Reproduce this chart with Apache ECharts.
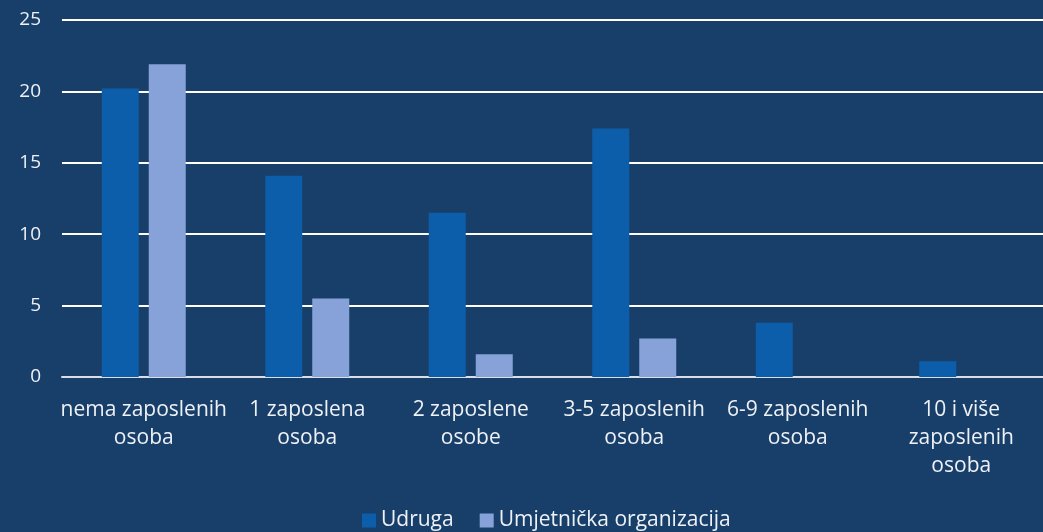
<!DOCTYPE html>
<html>
<head>
<meta charset="utf-8">
<script src="https://cdn.jsdelivr.net/npm/echarts@6/dist/echarts.min.js"></script>
<style>
  html, body { margin: 0; padding: 0; background: #183f69; }
  #chart { width: 1043px; height: 532px; }
</style>
</head>
<body>
<div id="chart"></div>
<script>
var categories = ['nema zaposlenih\nosoba', '1 zaposlena\nosoba', '2 zaposlene\nosobe', '3-5 zaposlenih\nosoba', '6-9 zaposlenih\nosoba', '10 i više\nzaposlenih\nosoba'];
var udruga = [20.2, 14.1, 11.5, 17.4, 3.8, 1.1];
var umjetnicka = [21.9, 5.5, 1.6, 2.7, 0, 0];
var seriesNames = ['Udruga', 'Umjetnička organizacija'];

var chart = echarts.init(document.getElementById('chart'));
var fontFam = '"Open Sans", sans-serif';

chart.setOption({
    backgroundColor: '#183f69',
    animation: false,
    grid: { left: 62, right: 0, top: 20, bottom: 155 },
    legend: {
        bottom: -4,
        left: 357,
        itemWidth: 14,
        itemHeight: 14,
        itemGap: 26,
        itemTextGap: 5,
        icon: 'rect',
        textStyle: { color: '#eef1f6', fontSize: 21, fontFamily: fontFam },
        data: seriesNames
    },
    xAxis: {
        type: 'category',
        data: categories,
        axisTick: { show: false },
        axisLine: { lineStyle: { color: '#d8dee8', width: 2 } },
        axisLabel: { color: '#eef1f6', fontSize: 21, fontFamily: fontFam, lineHeight: 28, margin: 19, interval: 0 }
    },
    yAxis: {
        type: 'value',
        min: 0,
        max: 25,
        interval: 5,
        axisLine: { show: false },
        axisTick: { show: false },
        axisLabel: { color: '#eef1f6', fontSize: 19, fontFamily: fontFam, margin: 21 },
        splitLine: { lineStyle: { color: '#ffffff', width: 2 } }
    },
    series: [
        {
            name: seriesNames[0],
            type: 'bar',
            data: udruga,
            barWidth: 37,
            barGap: '27%',
            itemStyle: { color: '#0c5eaa' }
        },
        {
            name: seriesNames[1],
            type: 'bar',
            data: umjetnicka,
            barWidth: 37,
            itemStyle: { color: '#87a2d8' }
        }
    ]
});
</script>
</body>
</html>
